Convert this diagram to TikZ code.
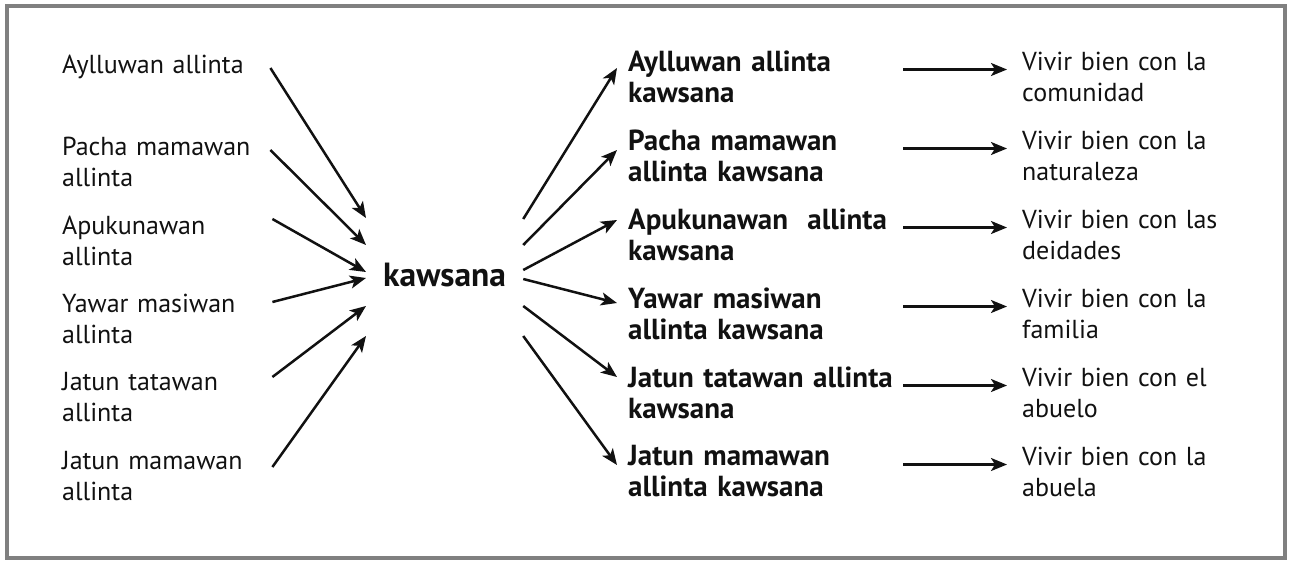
\documentclass[tikz,border=0pt]{standalone}
\usepackage{fontspec}
\setmainfont{PT Sans}
\usetikzlibrary{arrows.meta,positioning,calc}
\definecolor{framegrey}{HTML}{808080}
\definecolor{inkblack}{HTML}{111111}
\tikzset{
  lefttext/.style  = {anchor=west, align=left, inner sep=0pt, text width=200pt,
                      text=inkblack, font=\fontsize{26}{31}\selectfont},
  boldtext/.style  = {anchor=west, align=left, inner sep=0pt, text width=268pt,
                      text=inkblack, font=\fontsize{29}{31}\selectfont\bfseries},
  righttext/.style = {anchor=west, align=left, inner sep=0pt, text width=250pt,
                      text=inkblack, font=\fontsize{26}{31}\selectfont},
  flow/.style      = {-{Stealth[length=16pt,width=13pt,inset=4pt]}, draw=inkblack, line width=2.5pt},
}
\begin{document}
\begin{tikzpicture}[x=1pt,y=-1pt]
    \useasboundingbox (0,0) rectangle (1290,562);
    \draw[framegrey, line width=4.5pt] (7,6) rectangle (1285,558);
    % left column
    \node[lefttext] (l1) at (62,67)    {Aylluwan allinta};
    \node[lefttext] (l2) at (62,161.5) {Pacha mamawan\\allinta};
    \node[lefttext] (l3) at (62,240.5) {Apukunawan\\allinta};
    \node[lefttext] (l4) at (62,318.5) {Yawar masiwan\\allinta};
    \node[lefttext] (l5) at (62,397.5) {Jatun tatawan\\allinta};
    \node[lefttext] (l6) at (62,476.5) {Jatun mamawan\\allinta};
    % centre
    \node[anchor=west, inner sep=0pt, text=inkblack, font=\fontsize{33.5}{36}\selectfont\bfseries] (kw) at (383,275) {kawsana};
    % bold column
    \node[boldtext] (b1) at (628,76.5)  {Aylluwan allinta\\kawsana};
    \node[boldtext] (b2) at (628,155.5) {Pacha mamawan\\allinta kawsana};
    \node[boldtext] (b3) at (628,234.5) {Apukunawan\ \ allinta\\kawsana};
    \node[boldtext] (b4) at (628,313.5) {Yawar masiwan\\allinta kawsana};
    \node[boldtext] (b5) at (628,392.5) {Jatun tatawan allinta\\kawsana};
    \node[boldtext] (b6) at (628,471.5) {Jatun mamawan\\allinta kawsana};
    % right column
    \node[righttext] (v1) at (1022,76.5)  {Vivir bien con la\\comunidad};
    \node[righttext] (v2) at (1022,155.5) {Vivir bien con la\\naturaleza};
    \node[righttext] (v3) at (1022,234.5) {Vivir bien con las\\deidades};
    \node[righttext] (v4) at (1022,313.5) {Vivir bien con la\\familia};
    \node[righttext] (v5) at (1022,392.5) {Vivir bien con el\\abuelo};
    \node[righttext] (v6) at (1022,471.5) {Vivir bien con la\\abuela};
    % arrows in
    \draw[flow] ([xshift=8pt,yshift=-1pt]l1.east)   -- ([xshift=-17pt,yshift=57pt]kw.west);
    \draw[flow] ([xshift=8pt,yshift=11.5pt]l2.east) -- ([xshift=-17pt,yshift=30pt]kw.west);
    \draw[flow] ([xshift=10pt,yshift=21.5pt]l3.east) -- ([xshift=-17pt,yshift=3pt]kw.west);
    \draw[flow] ([xshift=10pt,yshift=16.5pt]l4.east) -- ([xshift=-17pt,yshift=-3pt]kw.west);
    \draw[flow] ([xshift=10pt,yshift=20.5pt]l5.east) -- ([xshift=-17pt,yshift=-31pt]kw.west);
    \draw[flow] ([xshift=10pt,yshift=9.5pt]l6.east)  -- ([xshift=-17pt,yshift=-61pt]kw.west);
    % arrows out
    \draw[flow] ([xshift=17pt,yshift=56pt]kw.east)  -- ([xshift=-11pt,yshift=8.5pt]b1.west);
    \draw[flow] ([xshift=17pt,yshift=30pt]kw.east)  -- ([xshift=-11pt,yshift=5.5pt]b2.west);
    \draw[flow] ([xshift=17pt,yshift=5pt]kw.east)   -- ([xshift=-11pt,yshift=14.5pt]b3.west);
    \draw[flow] ([xshift=17pt,yshift=-4pt]kw.east)  -- ([xshift=-11pt,yshift=10.5pt]b4.west);
    \draw[flow] ([xshift=17pt,yshift=-31pt]kw.east) -- ([xshift=-11pt,yshift=15.5pt]b5.west);
    \draw[flow] ([xshift=17pt,yshift=-61pt]kw.east) -- ([xshift=-11pt,yshift=6.5pt]b6.west);
    % arrows to meaning
    \foreach \i in {1,...,6}
      \draw[flow] ([xshift=7pt,yshift=7pt]b\i.east) -- ([xshift=-15pt,yshift=7pt]v\i.west);
\end{tikzpicture}
\end{document}
